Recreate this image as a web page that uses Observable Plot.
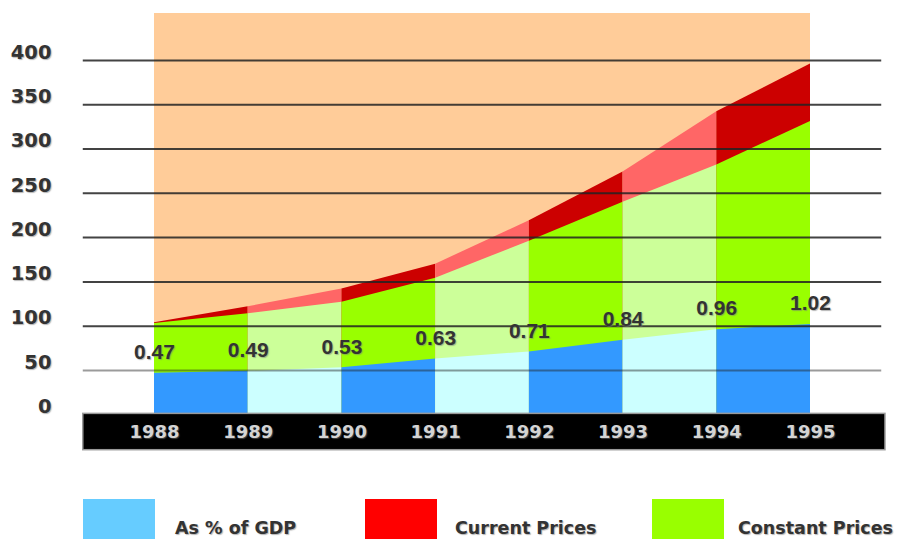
<!DOCTYPE html>
<html>
<head>
<meta charset="utf-8">
<script src="https://cdn.jsdelivr.net/npm/d3@7"></script>
<script src="https://cdn.jsdelivr.net/npm/@observablehq/plot@0.6"></script>
<style>
  html, body { margin: 0; padding: 0; background: #fff; }
  #chart { width: 913px; }
  #chart svg text { text-shadow: 1px 1px 1px rgba(120,120,120,0.55); }
  .legend { position: relative; width: 913px; height: 80px;
            font-family: "DejaVu Sans", sans-serif; font-weight: bold; font-size: 17.5px; color: #333;
            text-shadow: 1px 1px 1px rgba(120,120,120,0.55); }
  .legend .sw { position: absolute; top: 39px; width: 72px; height: 40px; }
  .legend .lb { position: absolute; top: 58px; line-height: 20px; white-space: nowrap; }
</style>
</head>
<body>
<div id="chart"></div>
<div class="legend" id="legend"></div>
<script>
// Spending 1988–1995: current prices, constant prices, and share of GDP
const years = [1988, 1989, 1990, 1991, 1992, 1993, 1994, 1995];
const currentPrices = [104, 122, 142, 170, 219, 274, 342, 396];
const constantPrices = [103, 114, 127, 154, 196, 240, 282, 331];
const gdpShare = [0.47, 0.49, 0.53, 0.63, 0.71, 0.84, 0.96, 1.02];
const yTicks = [0, 50, 100, 150, 200, 250, 300, 350, 400];
const legendLabels = ["As % of GDP", "Current Prices", "Constant Prices"];

// share of GDP is drawn on the same axis, scaled by 100
const shareScaled = gdpShare.map(v => v * 100);

// one area piece per year interval, so alternate intervals can be shaded differently
function pieces(values) {
  return years.slice(1).flatMap((yr, i) => [
    {year: years[i], value: values[i], seg: i},
    {year: yr, value: values[i + 1], seg: i}
  ]);
}

// each series rises from zero on its own (overlapping, not stacked)
function banded(values, dark, light) {
  return Plot.areaY(pieces(values), {
    x: "year", y1: 0, y2: "value", z: "seg",
    fill: d => (d.seg % 2 ? light : dark)
  });
}

const first = years[0], last = years[years.length - 1];
const reach = 0.76; // how far rules and the year strip extend past the data, in years
const labelRows = years.map((year, i) => ({year, share: gdpShare[i], scaled: shareScaled[i]}));

const chart = Plot.plot({
  width: 913,
  height: 460,
  marginLeft: 154,
  marginRight: 103,
  marginTop: 13,
  marginBottom: 10.3,
  x: {domain: [first, last]},
  y: {domain: [-40, 453]},
  color: {type: "identity"},
  style: {background: "#fff", overflow: "visible"},
  marks: [
    Plot.rect([null], {x1: first, x2: last, fill: "#ffcc99"}),
    banded(currentPrices, "#cc0000", "#ff6666"),
    banded(constantPrices, "#99ff00", "#ccff99"),
    banded(shareScaled, "#3399ff", "#ccffff"),
    Plot.ruleY(yTicks.filter(t => t === 50), {
      x1: first - reach, x2: last + reach, stroke: "#222", strokeWidth: 2, strokeOpacity: 0.45
    }),
    Plot.ruleY(yTicks.filter(t => t > 50), {
      x1: first - reach, x2: last + reach, stroke: "#222", strokeWidth: 2, strokeOpacity: 0.85
    }),
    Plot.rect([null], {
      x1: first - reach, x2: last + reach + 0.04, y1: -40, y2: 1,
      fill: "#000", stroke: "#999", strokeWidth: 1.5
    }),
    Plot.axisY(yTicks, {
      anchor: "left", tickSize: 0, tickPadding: 103, dy: -8, label: null,
      fontSize: 19.5, fontWeight: "bold", fontFamily: "DejaVu Sans", fill: "#333"
    }),
    Plot.axisX(years, {
      anchor: "bottom", tickSize: 0, tickPadding: 0, lineAnchor: "middle", dy: -18, label: null,
      tickFormat: d => String(d),
      fontSize: 18, fontWeight: "bold", fontFamily: "DejaVu Sans", fill: "#d4d4d4"
    }),
    Plot.text(labelRows, {
      x: "year", y: "scaled", text: d => d.share.toFixed(2), dy: -21,
      fontSize: 21, fontWeight: "bold", fontFamily: "Liberation Sans", fill: "#333"
    })
  ]
});
document.getElementById("chart").append(chart);

// legend below the plot
const legendColors = ["#66ccff", "#ff0000", "#99ff00"];
const swatchX = [83, 365, 652];
const labelX = [175, 455, 738];
const legend = document.getElementById("legend");
legendLabels.forEach((label, i) => {
  const sw = document.createElement("div");
  sw.className = "sw";
  sw.style.left = swatchX[i] + "px";
  sw.style.background = legendColors[i];
  legend.append(sw);
  const lb = document.createElement("div");
  lb.className = "lb";
  lb.style.left = labelX[i] + "px";
  lb.textContent = label;
  legend.append(lb);
});
</script>
</body>
</html>
